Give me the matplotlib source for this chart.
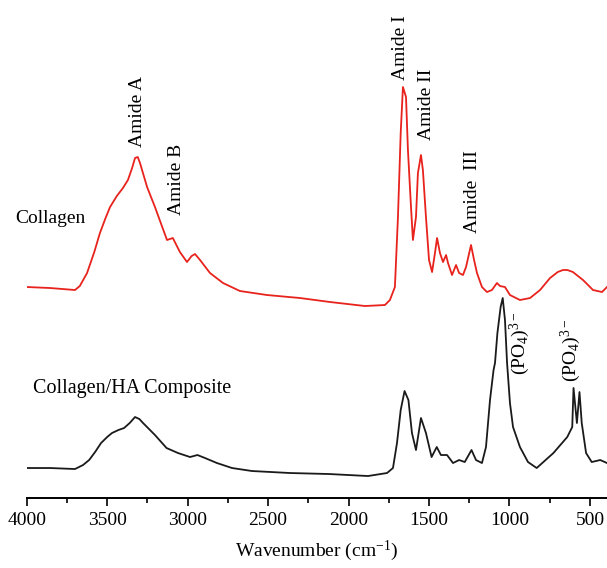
import matplotlib
matplotlib.use("Agg")
import matplotlib.pyplot as plt
from matplotlib.ticker import FixedLocator

plt.rcParams['font.family'] = ['Liberation Serif', 'DejaVu Serif']
plt.rcParams['mathtext.fontset'] = 'custom'
plt.rcParams['mathtext.rm'] = 'Liberation Serif'
plt.rcParams['mathtext.it'] = 'Liberation Serif:italic'
plt.rcParams['mathtext.bf'] = 'Liberation Serif:bold'

# Collagen spectrum (wavenumber, relative intensity)
collagen_wn = [4000, 3855, 3700, 3670, 3625, 3580, 3545, 3510, 3482, 3440, 3402, 3371,
               3345, 3327, 3310, 3296, 3252, 3203, 3160, 3128, 3092, 3048, 3004, 2975,
               2954, 2923, 2861, 2780, 2675, 2507, 2302, 2115, 1898, 1774, 1743, 1712,
               1693, 1676, 1662, 1643, 1631, 1612, 1600, 1581, 1569, 1550, 1538, 1519,
               1500, 1481, 1463, 1450, 1432, 1413, 1394, 1382, 1357, 1332, 1313, 1289,
               1270, 1239, 1220, 1202, 1171, 1140, 1109, 1078, 1059, 1028, 997, 935,
               872, 810, 748, 700, 668, 640, 606, 543, 481, 425, 394]
collagen_val = [211, 210, 208, 212, 225, 246, 265, 280, 291, 302, 310, 318,
                330, 340, 341, 335, 311, 291, 272, 258, 260, 246, 236, 242,
                244, 238, 225, 215, 207, 203, 200, 196, 192, 193, 198, 211,
                281, 365, 411, 401, 348, 291, 258, 281, 325, 343, 328, 281,
                238, 226, 245, 260, 245, 236, 243, 235, 223, 233, 225, 223,
                231, 253, 238, 225, 211, 206, 208, 215, 212, 211, 203, 198,
                200, 208, 220, 226, 228, 228, 226, 218, 208, 206, 211]

# Collagen/HA composite spectrum
composite_wn = [4000, 3855, 3700, 3650, 3612, 3575, 3538, 3500, 3470, 3430, 3395, 3360,
                3327, 3300, 3277, 3203, 3131, 3060, 2985, 2939, 2892, 2818, 2724, 2600,
                2364, 2122, 1879, 1761, 1724, 1699, 1676, 1652, 1628, 1606, 1581, 1550,
                1519, 1484, 1452, 1426, 1388, 1351, 1313, 1278, 1236, 1208, 1171, 1146,
                1121, 1099, 1090, 1075, 1055, 1042, 1028, 1015, 997, 978, 935, 885, 831,
                727, 641, 610, 602, 581, 565, 551, 524, 489, 436, 394]
composite_val = [30, 30, 29, 33, 38, 46, 55, 61, 65, 68, 70, 75,
                 81, 79, 75, 63, 50, 45, 41, 43, 40, 35, 30, 27,
                 25, 24, 22, 25, 30, 55, 88, 107, 98, 65, 48, 80,
                 65, 41, 51, 43, 43, 35, 38, 36, 48, 38, 35, 51,
                 98, 128, 135, 165, 191, 200, 178, 135, 95, 71, 51, 36, 30,
                 45, 61, 71, 110, 75, 106, 75, 45, 36, 38, 35]

major_ticks = [4000, 3500, 3000, 2500, 2000, 1500, 1000, 500]
minor_ticks = [3750, 3250, 2750, 2250, 1750, 1250, 750]

fig = plt.figure(figsize=(6.07, 5.68), dpi=100)
ax = fig.add_axes([0.044, 0.1232, 0.956, 0.8768])

ax.plot(collagen_wn, collagen_val, color='#e8221c', lw=1.3)
ax.plot(composite_wn, composite_val, color='#1a1a1a', lw=1.3)

ax.set_xlim(4000, 394)
ax.set_ylim(0, 498)

for s in ['left', 'right', 'top']:
    ax.spines[s].set_visible(False)
ax.spines['bottom'].set_linewidth(1.4)
ax.set_yticks([])
ax.xaxis.set_major_locator(FixedLocator(major_ticks))
ax.xaxis.set_minor_locator(FixedLocator(minor_ticks))
ax.tick_params(axis='x', which='major', direction='out', length=6, width=1.2,
               labelsize=14, pad=4)
ax.tick_params(axis='x', which='minor', direction='out', length=3.5, width=1.2)
ax.set_xlabel('Wavenumber (cm$^{-1}$)', fontsize=14, labelpad=7)

fs = 14
ax.text(4073, 280, 'Collagen', fontsize=fs, ha='left', va='center')
ax.text(3961, 110, 'Collagen/HA Composite', fontsize=14.5, ha='left', va='center')
ax.text(3314, 351, 'Amide A', fontsize=fs, rotation=90, ha='center', va='bottom')
ax.text(3067, 283, 'Amide B', fontsize=fs, rotation=90, ha='center', va='bottom')
ax.text(1677, 418, 'Amide I', fontsize=fs, rotation=90, ha='center', va='bottom')
ax.text(1518, 358, 'Amide II', fontsize=fs, rotation=90, ha='center', va='bottom')
ax.text(1228, 265, 'Amide  III', fontsize=fs, rotation=90, ha='center', va='bottom')
ax.text(935, 123, '(PO$_4$)$^{3-}$', fontsize=fs, rotation=90, ha='center', va='bottom')
ax.text(618, 116, '(PO$_4$)$^{3-}$', fontsize=fs, rotation=90, ha='center', va='bottom')

fig.savefig('out.png', dpi=100)
